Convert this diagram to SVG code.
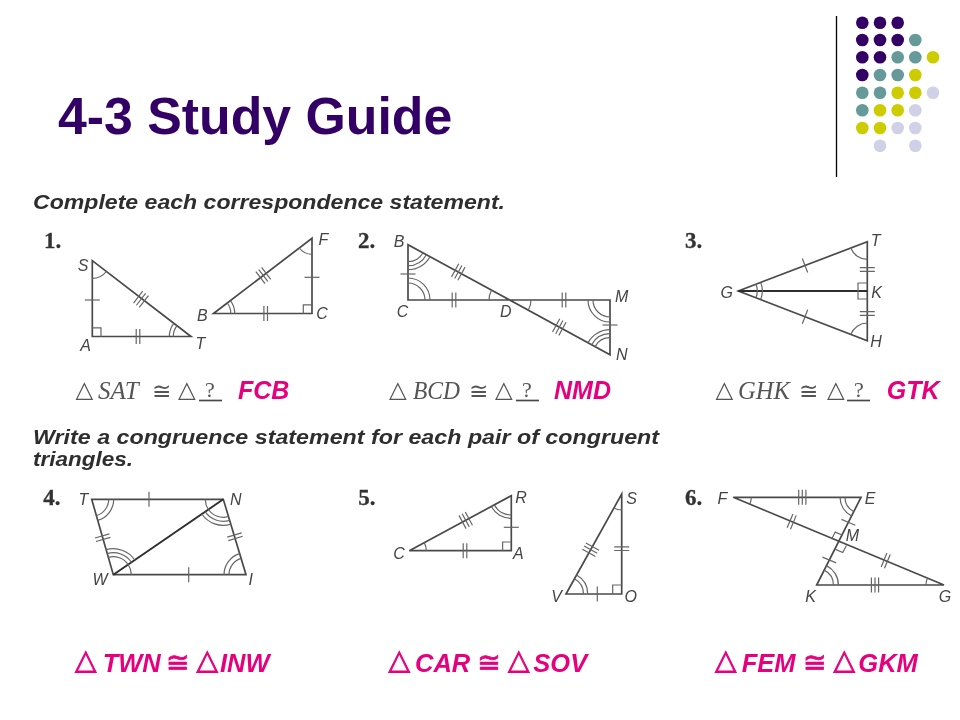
<svg xmlns="http://www.w3.org/2000/svg" xmlns:xlink="http://www.w3.org/1999/xlink" width="960" height="720" viewBox="0 0 960 720">
<style>
text{font-family:"Liberation Sans",Arial,sans-serif}
.title{font-weight:bold;font-size:51.8px;fill:#330066}
.head{font-weight:bold;font-style:italic;font-size:20.5px;fill:#2e2e2e}
.num{font-family:"Liberation Serif",serif;font-weight:bold;font-size:23px;fill:#333;stroke:#333;stroke-width:.3}
.lab{font-style:italic;font-size:16px;fill:#444;text-anchor:middle}
.frm{font-family:"Liberation Serif",serif;font-style:italic;font-size:25px;fill:#555}
.sym{font-family:"DejaVu Sans",sans-serif;font-size:23px;fill:#555}
.q{font-family:"Liberation Serif",serif;font-size:22px;fill:#555;text-anchor:middle}
.ans{font-weight:bold;font-style:italic;font-size:25px;fill:#e6007e}
.big{font-size:25.5px}
.asym{font-family:"DejaVu Sans",sans-serif;font-size:28px;fill:#e6007e;stroke:#e6007e;stroke-width:.8}
.edge{fill:none;stroke:#4a4a4a;stroke-width:1.7}
.dark{fill:none;stroke:#2e2e2e;stroke-width:1.9}
.thin{fill:none;stroke:#666;stroke-width:1.2}
.p{fill:#330066}.t{fill:#669999}.y{fill:#cccc00}.l{fill:#d0d0e6}
</style>
<defs>
<filter id="soft" x="-5%" y="-5%" width="110%" height="110%"><feGaussianBlur stdDeviation="0.35"/></filter>
<path id="t1" d="M0-7.5V7.5"/>
<path id="t2" d="M-1.8-7.5V7.5M1.8-7.5V7.5"/>
<path id="t3" d="M-3.6-7.5V7.5M0-7.5V7.5M3.6-7.5V7.5"/>
</defs>

<text class="title" x="58" y="134">4-3 Study Guide</text>
<path d="M836.5 16V177" stroke="#000" stroke-width="1.3"/>
<g id="dots">
<circle class="p" cx="862.3" cy="22.7" r="6.3"/><circle class="p" cx="880" cy="22.7" r="6.3"/><circle class="p" cx="897.7" cy="22.7" r="6.3"/>
<circle class="p" cx="862.3" cy="40" r="6.3"/><circle class="p" cx="880" cy="40" r="6.3"/><circle class="p" cx="897.7" cy="40" r="6.3"/><circle class="t" cx="915.3" cy="40" r="6.3"/>
<circle class="p" cx="862.3" cy="57.3" r="6.3"/><circle class="p" cx="880" cy="57.3" r="6.3"/><circle class="t" cx="897.7" cy="57.3" r="6.3"/><circle class="t" cx="915.3" cy="57.3" r="6.3"/><circle class="y" cx="933" cy="57.3" r="6.3"/>
<circle class="p" cx="862.3" cy="75" r="6.3"/><circle class="t" cx="880" cy="75" r="6.3"/><circle class="t" cx="897.7" cy="75" r="6.3"/><circle class="y" cx="915.3" cy="75" r="6.3"/>
<circle class="t" cx="862.3" cy="92.7" r="6.3"/><circle class="t" cx="880" cy="92.7" r="6.3"/><circle class="y" cx="897.7" cy="92.7" r="6.3"/><circle class="y" cx="915.3" cy="92.7" r="6.3"/><circle class="l" cx="933" cy="92.7" r="6.3"/>
<circle class="t" cx="862.3" cy="110.3" r="6.3"/><circle class="y" cx="880" cy="110.3" r="6.3"/><circle class="y" cx="897.7" cy="110.3" r="6.3"/><circle class="l" cx="915.3" cy="110.3" r="6.3"/>
<circle class="y" cx="862.3" cy="128" r="6.3"/><circle class="y" cx="880" cy="128" r="6.3"/><circle class="l" cx="897.7" cy="128" r="6.3"/><circle class="l" cx="915.3" cy="128" r="6.3"/>
<circle class="l" cx="880" cy="145.7" r="6.3"/><circle class="l" cx="915.3" cy="145.7" r="6.3"/>
</g>

<g filter="url(#soft)">
<text class="head" x="33" y="209" textLength="472" lengthAdjust="spacingAndGlyphs">Complete each correspondence statement.</text>
<text class="head" x="33" y="444" textLength="626" lengthAdjust="spacingAndGlyphs">Write a congruence statement for each pair of congruent</text>
<text class="head" x="33" y="466" textLength="100" lengthAdjust="spacingAndGlyphs">triangles.</text>

<g id="problem1">
<text class="num" x="44" y="248">1.</text>
<path class="edge" d="M92.3 260.7V336.5H191ZM312 238.3V313.5H213.5Z"/>
<path class="thin" d="M92.3 278.4A17.7 17.7 0 0 0 106.3 271.5M169.3 336.5A21.7 21.7 0 0 1 173.8 323.3M173.3 336.5A17.7 17.7 0 0 1 177 325.7M92.3 327.8H101V336.5M312 254.3A16 16 0 0 1 299.3 248M234.8 313.5A21.3 21.3 0 0 0 230.4 300.6M230.8 313.5A17.3 17.3 0 0 0 227.3 303M303.3 313.5V304.8H312"/>
<g class="thin">
<use xlink:href="#t1" transform="translate(92.3 300) rotate(90)"/>
<use xlink:href="#t2" transform="translate(138 336.5)"/>
<use xlink:href="#t3" transform="translate(141 299.3) rotate(37.5)"/>
<use xlink:href="#t3" transform="translate(263.3 275.5) rotate(-37.4)"/>
<use xlink:href="#t1" transform="translate(312 277.3) rotate(90)"/>
<use xlink:href="#t2" transform="translate(265.7 313.5)"/>
</g>
<text class="lab" x="83" y="271">S</text><text class="lab" x="85.5" y="351">A</text><text class="lab" x="200.5" y="349">T</text><text class="lab" x="202.3" y="321">B</text><text class="lab" x="322" y="319">C</text><text class="lab" x="323.3" y="245">F</text>
<text class="sym" x="75.5" y="397">△</text><text class="frm" x="98" y="399">SAT</text><text class="sym" x="152" y="399">≅</text><text class="sym" x="178" y="397">△</text><text class="q" x="210" y="397">?</text><path class="edge" d="M199 400.5H222"/>
<text class="ans" x="238" y="399">FCB</text>
</g>

<g id="problem2">
<text class="num" x="358" y="248">2.</text>
<path class="edge" d="M408 244.7V300H610V354.7Z"/>
<path class="thin" d="M408 261.7A17 17 0 0 0 422.9 252.8M408 265.7A21 21 0 0 0 426.4 254.7M408 269.7A25 25 0 0 0 430 256.7M408 283A17 17 0 0 1 425 300M408 278A22 22 0 0 1 430 300M489 300A21 21 0 0 1 491.6 290M531 300A21 21 0 0 1 528.4 310M593 300A17 17 0 0 0 610 317M588 300A22 22 0 0 0 610 322M610 337.7A17 17 0 0 0 595.1 346.6M610 333.7A21 21 0 0 0 591.6 344.7M610 329.7A25 25 0 0 0 588 342.7"/>
<g class="thin">
<use xlink:href="#t1" transform="translate(408 274) rotate(90)"/>
<use xlink:href="#t1" transform="translate(610 325) rotate(90)"/>
<use xlink:href="#t2" transform="translate(454 300)"/>
<use xlink:href="#t2" transform="translate(564 300)"/>
<use xlink:href="#t3" transform="translate(458.3 272) rotate(28.6)"/>
<use xlink:href="#t3" transform="translate(559.3 327.1) rotate(28.6)"/>
</g>
<text class="lab" x="399" y="247">B</text><text class="lab" x="402.5" y="317">C</text><text class="lab" x="505.7" y="317">D</text><text class="lab" x="621.7" y="302">M</text><text class="lab" x="621.7" y="360">N</text>
<text class="sym" x="389" y="397">△</text><text class="frm" x="413" y="399" textLength="47" lengthAdjust="spacingAndGlyphs">BCD</text><text class="sym" x="469" y="399">≅</text><text class="sym" x="495" y="397">△</text><text class="q" x="527" y="397">?</text><path class="edge" d="M516 400.5H539"/>
<text class="ans" x="554" y="399">NMD</text>
</g>

<g id="problem3">
<text class="num" x="685" y="248">3.</text>
<path class="edge" d="M867.3 241.7V340.7L738.3 291Z"/>
<path class="dark" d="M738.3 291H867.3"/>
<path class="thin" d="M756 284.2A19 19 0 0 1 756 297.8M760.7 282.4A24 24 0 0 1 760.7 299.6M867.3 259.4A17.7 17.7 0 0 1 850.8 248M867.3 323A17.7 17.7 0 0 0 850.8 334.4M867.3 283H858V299H867.3"/>
<g class="thin">
<use xlink:href="#t1" transform="translate(805 265.5) rotate(-20.9)"/>
<use xlink:href="#t1" transform="translate(805 316.7) rotate(21)"/>
<use xlink:href="#t2" transform="translate(867.3 269.5) rotate(90)"/>
<use xlink:href="#t2" transform="translate(867.3 313.5) rotate(90)"/>
</g>
<text class="lab" x="726.7" y="298">G</text><text class="lab" x="875.7" y="246">T</text><text class="lab" x="876.7" y="298">K</text><text class="lab" x="876" y="347">H</text>
<text class="sym" x="715.5" y="397">△</text><text class="frm" x="738" y="399" textLength="52" lengthAdjust="spacingAndGlyphs">GHK</text><text class="sym" x="799" y="399">≅</text><text class="sym" x="827" y="397">△</text><text class="q" x="859" y="397">?</text><path class="edge" d="M847 400.5H870"/>
<text class="ans" x="886.7" y="399">GTK</text>
</g>

<g id="problem4">
<text class="num" x="43.3" y="505">4.</text>
<path class="edge" d="M91.7 499.3H223.3L246 574.7H113.3Z"/>
<path class="dark" d="M113.3 574.7L223.3 499.3"/>
<path class="thin" d="M108.7 499.3A17 17 0 0 1 96.4 515.6M113.7 499.3A22 22 0 0 1 97.7 520.4M229 574.7A17 17 0 0 1 241.1 558.4M224 574.7A22 22 0 0 1 239.7 553.6M108.3 557.4A18 18 0 0 1 128.2 564.5M107.3 553.6A22 22 0 0 1 131.5 562.3M106.1 549.7A26 26 0 0 1 134.8 560M128.2 564.5A18 18 0 0 1 131.3 574.7M205.3 499.3A18 18 0 0 0 208.4 509.5M208.4 509.5A18 18 0 0 0 228.5 516.5M205.1 511.7A22 22 0 0 0 229.6 520.4M201.8 514A26 26 0 0 0 230.8 524.2"/>
<g class="thin">
<use xlink:href="#t1" transform="translate(149 499.3)"/>
<use xlink:href="#t1" transform="translate(188.7 574.7)"/>
<use xlink:href="#t2" transform="translate(102.7 537.7) rotate(74)"/>
<use xlink:href="#t2" transform="translate(235 536.7) rotate(73.2)"/>
</g>
<text class="lab" x="83.3" y="504.5">T</text><text class="lab" x="235.7" y="505">N</text><text class="lab" x="100" y="585">W</text><text class="lab" x="250.7" y="585">I</text>
<text class="asym" x="75" y="669">△</text><text class="ans big" x="102.7" y="671.7">TWN</text><text class="asym" x="166" y="672">≅</text><text class="asym" x="196.5" y="669">△</text><text class="ans big" x="220" y="671.7">INW</text>
</g>

<g id="problem5">
<text class="num" x="358.3" y="505">5.</text>
<path class="edge" d="M409.3 550.7H511.3V495.7ZM621.7 494V594H566Z"/>
<path class="thin" d="M511.3 515A19.3 19.3 0 0 1 494.3 504.9M511.3 518.4A22.7 22.7 0 0 1 491.3 506.5M426.3 550.7A17 17 0 0 0 424.3 542.6M502.6 550.7V542H511.3M621.7 510A16 16 0 0 1 613.9 508M583.5 594A17.5 17.5 0 0 0 574.5 578.7M587.7 594A21.7 21.7 0 0 0 576.6 575.1M612.7 594V585H621.7"/>
<g class="thin">
<use xlink:href="#t3" transform="translate(465.7 520.3) rotate(-28.3)"/>
<use xlink:href="#t1" transform="translate(511.3 527.3) rotate(90)"/>
<use xlink:href="#t2" transform="translate(465 550.7)"/>
<use xlink:href="#t3" transform="translate(590.7 549.7) rotate(-60.9)"/>
<use xlink:href="#t2" transform="translate(621.7 548.7) rotate(90)"/>
<use xlink:href="#t1" transform="translate(597.3 594)"/>
</g>
<text class="lab" x="399" y="558.5">C</text><text class="lab" x="518.3" y="558.5">A</text><text class="lab" x="521" y="503">R</text><text class="lab" x="631.7" y="503.5">S</text><text class="lab" x="556.7" y="602">V</text><text class="lab" x="630.7" y="602">O</text>
<text class="asym" x="388.5" y="669">△</text><text class="ans big" x="415" y="671.7">CAR</text><text class="asym" x="477.3" y="672">≅</text><text class="asym" x="508" y="669">△</text><text class="ans big" x="533.3" y="671.7">SOV</text>
</g>

<g id="problem6">
<text class="num" x="685" y="505">6.</text>
<path class="edge" d="M733.3 497.3H861L816.7 585H944Z"/>
<path class="thin" d="M751.3 497.3A18 18 0 0 1 749.9 504.2M845 497.3A16 16 0 0 0 853.8 511.6M840 497.3A21 21 0 0 0 851.5 516M833.4 585A16.7 16.7 0 0 0 824.2 570.1M838.4 585A21.7 21.7 0 0 0 826.5 565.6M926 585A18 18 0 0 1 927.4 578.1M831.6 539.2L835.2 532.1L842.6 535.2M846.4 545.4L842.8 552.5L835.4 549.4"/>
<g class="thin">
<use xlink:href="#t3" transform="translate(802.3 497.3)"/>
<use xlink:href="#t3" transform="translate(875 585)"/>
<use xlink:href="#t2" transform="translate(791.7 521.6) rotate(22.6)"/>
<use xlink:href="#t2" transform="translate(885.7 560.7) rotate(22.6)"/>
<use xlink:href="#t1" transform="translate(848.4 522.3) rotate(112.6)"/>
<use xlink:href="#t1" transform="translate(829.3 560) rotate(112.6)"/>
</g>
<text class="lab" x="722.3" y="504">F</text><text class="lab" x="870" y="504">E</text><text class="lab" x="852.3" y="541">M</text><text class="lab" x="810.7" y="602.3">K</text><text class="lab" x="945" y="602.3">G</text>
<text class="asym" x="715" y="669">△</text><text class="ans big" x="741.7" y="671.7">FEM</text><text class="asym" x="803" y="672">≅</text><text class="asym" x="833.5" y="669">△</text><text class="ans big" x="858.3" y="671.7">GKM</text>
</g>
</g>
</svg>
